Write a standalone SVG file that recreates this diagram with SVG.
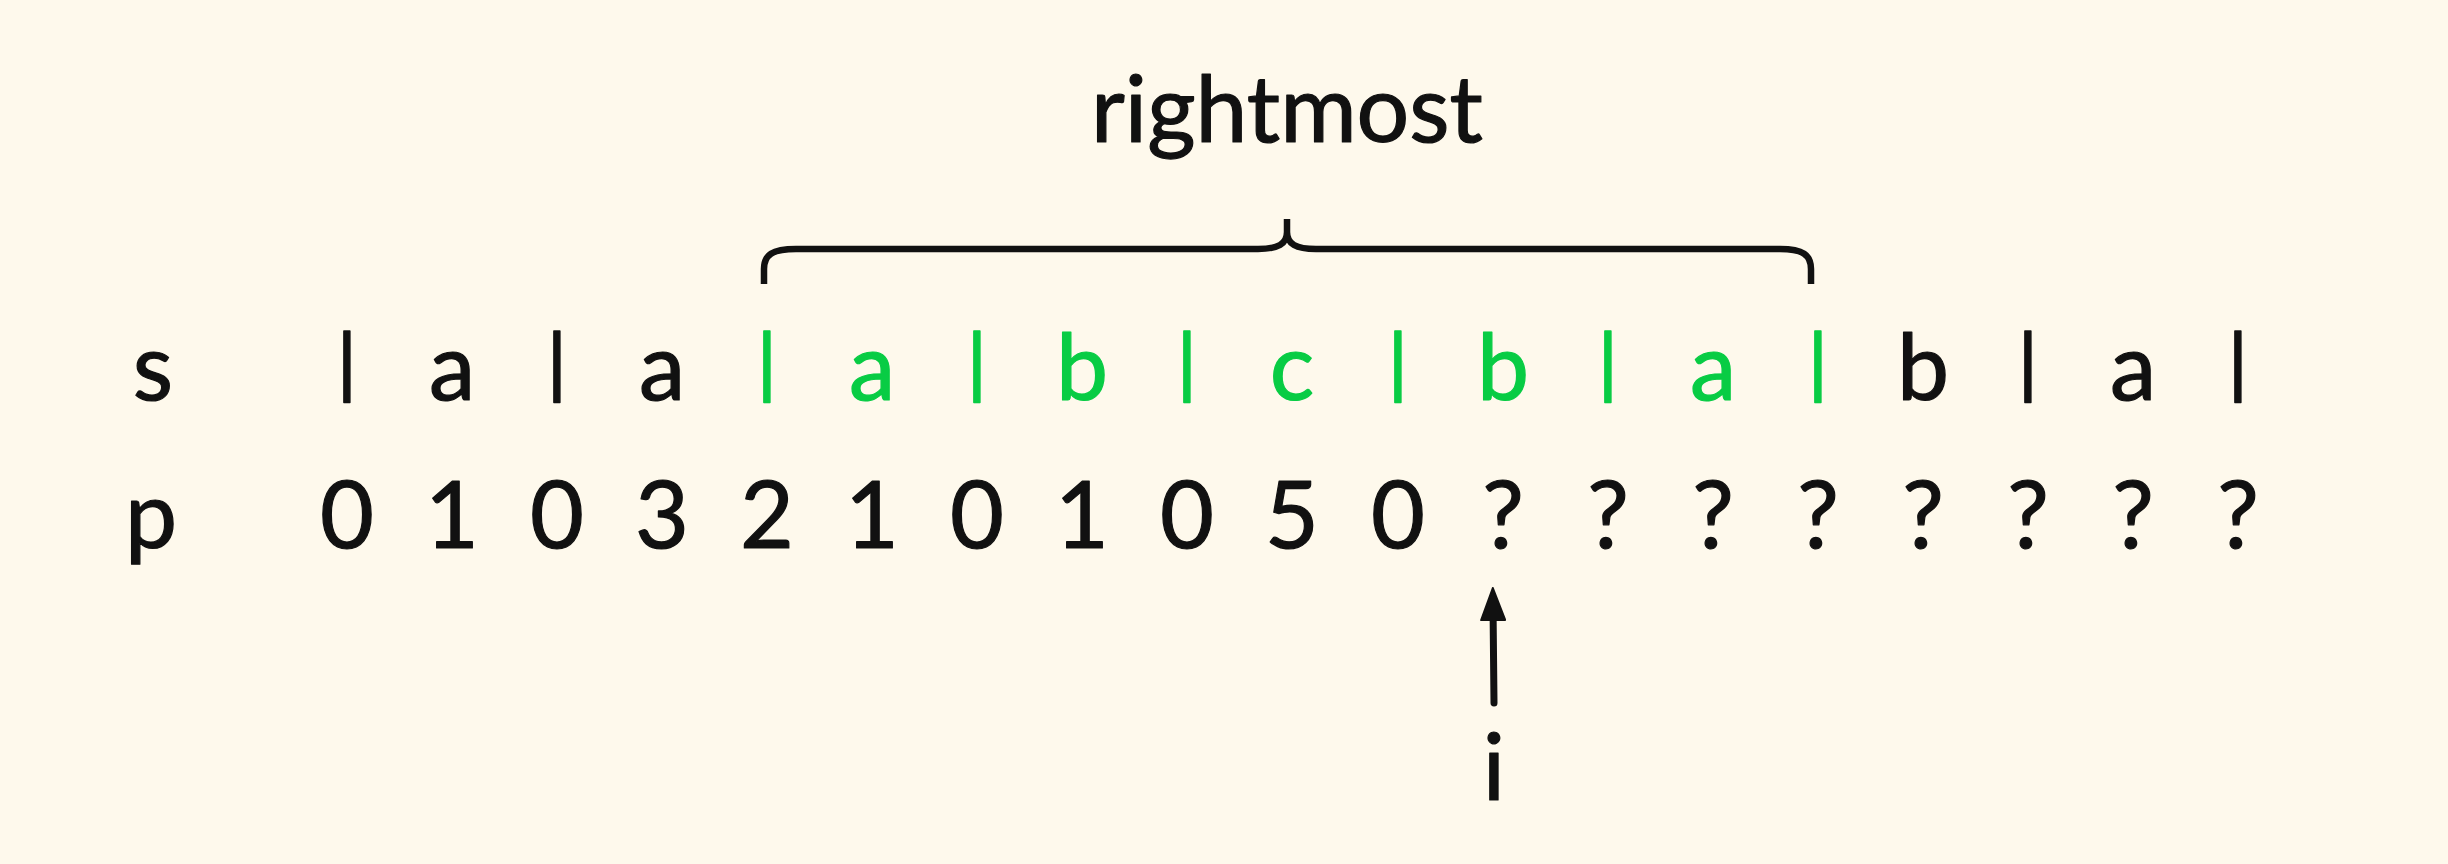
<svg xmlns="http://www.w3.org/2000/svg" width="2448" height="864" viewBox="0 0 2448 864">
<defs>
<style>
.t{font-family:Lato,"Noto Sans","Liberation Sans",sans-serif;font-size:93px;fill:#111;stroke:#111;stroke-width:1.2;stroke-linejoin:round;text-anchor:middle}
.bar{font-family:"DejaVu Sans",sans-serif;font-size:72px;fill:#111;stroke:#111;stroke-width:1.5;stroke-linejoin:round;text-anchor:middle}
.g{fill:#08CC44;stroke:#08CC44}
.ln{fill:none;stroke:#111;stroke-width:6.5}
</style>
<marker id="ah" viewBox="0 0 34 26" refX="16" refY="13" markerWidth="34" markerHeight="26" markerUnits="userSpaceOnUse" orient="auto">
<path d="M1,1 L33,13 L1,25 Z" fill="#111" stroke="#111" stroke-width="2" stroke-linejoin="round"/>
</marker>
</defs>
<rect width="2448" height="864" fill="#FEF9EC"/>

<g id="title"><text class="t" x="1287" y="142">rightmost</text></g>

<g id="brace"><path class="ln" d="M764,284 V269 C764,255 772,249 796,249 H1258 C1278,249 1287,244 1287,232 V219 M1287,232 C1287,244 1296,249 1316,249 H1780 C1803,249 1811,255 1811,269 V284"/></g>

<g id="row-s">
<text class="t" x="153" y="400">s</text>
<text class="bar" x="347" y="385">|</text>
<text class="t" x="452" y="400">a</text>
<text class="bar" x="557" y="385">|</text>
<text class="t" x="662" y="400">a</text>
<text class="bar g" x="767" y="385">|</text>
<text class="t g" x="872" y="400">a</text>
<text class="bar g" x="977" y="385">|</text>
<text class="t g" x="1082" y="400">b</text>
<text class="bar g" x="1187" y="385">|</text>
<text class="t g" x="1292" y="400">c</text>
<text class="bar g" x="1398" y="385">|</text>
<text class="t g" x="1503" y="400">b</text>
<text class="bar g" x="1608" y="385">|</text>
<text class="t g" x="1713" y="400">a</text>
<text class="bar g" x="1818" y="385">|</text>
<text class="t" x="1923" y="400">b</text>
<text class="bar" x="2028" y="385">|</text>
<text class="t" x="2133" y="400">a</text>
<text class="bar" x="2238" y="385">|</text>
</g>

<g id="row-p">
<text class="t" x="151" y="548">p</text>
<text class="t" x="347" y="548">0</text>
<text class="t" x="452" y="548">1</text>
<text class="t" x="557" y="548">0</text>
<text class="t" x="662" y="548">3</text>
<text class="t" x="767" y="548">2</text>
<text class="t" x="872" y="548">1</text>
<text class="t" x="977" y="548">0</text>
<text class="t" x="1082" y="548">1</text>
<text class="t" x="1187" y="548">0</text>
<text class="t" x="1292" y="548">5</text>
<text class="t" x="1398" y="548">0</text>
<text class="t" x="1503" y="548">?</text>
<text class="t" x="1608" y="548">?</text>
<text class="t" x="1713" y="548">?</text>
<text class="t" x="1818" y="548">?</text>
<text class="t" x="1923" y="548">?</text>
<text class="t" x="2028" y="548">?</text>
<text class="t" x="2133" y="548">?</text>
<text class="t" x="2238" y="548">?</text>
</g>

<g id="label-i"><text class="t" x="1494" y="800">i</text></g>

<g id="connectors">
<line x1="1494" y1="703" x2="1493" y2="605" stroke="#111" stroke-width="7" stroke-linecap="round" marker-end="url(#ah)"/>
</g>
</svg>
